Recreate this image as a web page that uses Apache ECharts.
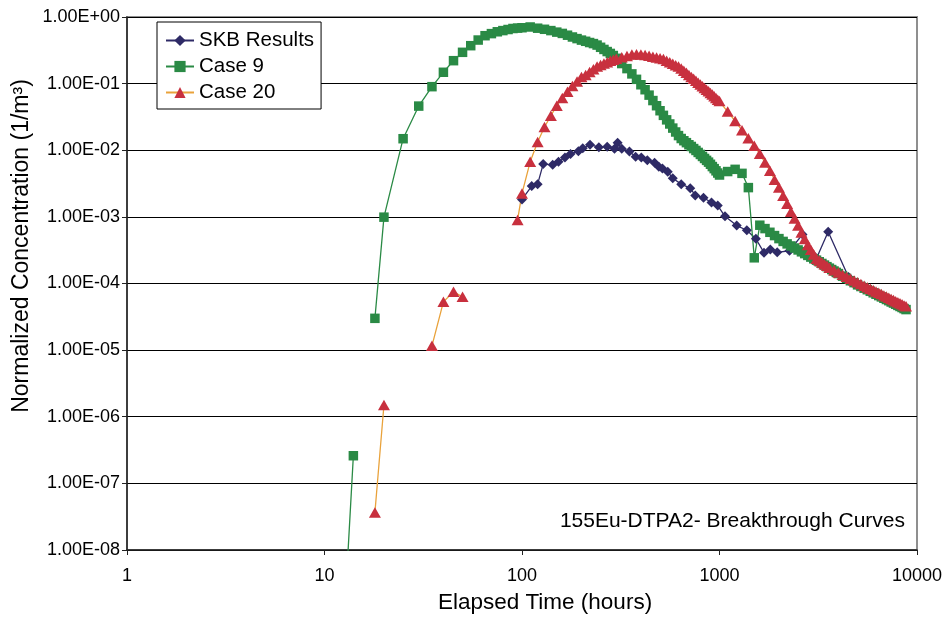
<!DOCTYPE html>
<html>
<head>
<meta charset="utf-8">
<script src="https://cdn.jsdelivr.net/npm/echarts@6/dist/echarts.min.js"></script>
<style>
  html, body { margin: 0; padding: 0; background: #fff; }
  #chart { width: 950px; height: 617px; }
</style>
</head>
<body>
<div id="chart"></div>
<script>
// Tick labels for the two logarithmic axes, indexed by decade
const xTickLabels = ['1', '10', '100', '1000', '10000'];
const yTickLabels = ['1.00E+00', '1.00E-01', '1.00E-02', '1.00E-03', '1.00E-04',
                     '1.00E-05', '1.00E-06', '1.00E-07', '1.00E-08'];

const seriesNames = ['SKB Results', 'Case 9', 'Case 20'];

// SKB Results: elapsed time (h) and normalized concentration (1/m3)
const skbTime = [100, 112, 120, 128, 143, 153, 165, 176, 193, 203, 221, 245, 270, 294, 305,
  320, 350, 376, 402, 431, 469, 493, 514, 547, 580, 640, 711, 754, 830, 911, 980,
  1066, 1222, 1375, 1528, 1680, 1808, 1960, 2262, 2632, 3100, 3550, 4500, 6000, 8000];
const skbConc = [1.83e-3, 2.9e-3, 3.1e-3, 6.2e-3, 6.05e-3, 6.7e-3, 7.8e-3, 8.8e-3, 9.7e-3, 1.07e-2,
  1.21e-2, 1.11e-2, 1.13e-2, 1.05e-2, 1.3e-2, 1.05e-2, 9.6e-3, 8.0e-3, 7.8e-3, 7.1e-3,
  6.5e-3, 5.65e-3, 5.3e-3, 4.75e-3, 3.8e-3, 3.1e-3, 2.7e-3, 2.1e-3, 1.94e-3, 1.64e-3,
  1.48e-3, 1.02e-3, 7.4e-4, 6.3e-4, 4.7e-4, 2.9e-4, 3.25e-4, 2.94e-4, 3.1e-4, 5.45e-4,
  2.4e-4, 6.0e-4, 1.25e-4, 7.5e-5, 4.9e-5];

// Case 9 (null marks a break in the curve)
const case9Time = [13, 14, 16, 18, 20, 25, 30, 35, 40, 45, 50, 55, 60, 65, 70, 75, 80, 85, 90, 95,
  100, 110, 120, 130, 140, 150, 160, 170, 180, 190, 200, 210, 220, 230, 240, 250, 260, 270,
  280, 290, 300, 320, 340, 360, 380, 400, 420, 440, 460, 480, 500, 520, 540, 560, 580, 600,
  620, 640, 660, 680, 700, 720, 740, 760, 780, 800, 820, 840, 860, 880, 900, 920, 940, 960,
  980, 1000, 1100, 1200, 1300, 1400, 1500, 1600, 1700, 1800, 1900, 2000, 2100, 2200, 2300,
  2400, 2500, 2600, 2700, 2800, 2900, 3000, 3100, 3200, 3300, 3400, 3500, 3600, 3700, 3800,
  3900, 4000, 4200, 4400, 4600, 4800, 5000, 5200, 5400, 5600, 5800, 6000, 6200, 6400, 6600,
  6800, 7000, 7200, 7400, 7600, 7800, 8000, 8200, 8400, 8600, 8800];
const case9Conc = [5e-9, 2.6e-7, null, 3.0e-5, 9.9e-4, 1.49e-2, 4.6e-2, 9.0e-2, 0.148, 0.221,
  0.295, 0.371, 0.451, 0.524, 0.563, 0.600, 0.625, 0.649, 0.672, 0.681,
  0.690, 0.708, 0.679, 0.654, 0.625, 0.593, 0.567, 0.533, 0.501, 0.474, 0.450, 0.432, 0.414,
  0.399, 0.379, 0.351, 0.326, 0.303, 0.284, 0.264, 0.240, 0.200, 0.168, 0.140, 0.116, 0.0962,
  0.0810, 0.0672, 0.0557, 0.0466, 0.0392, 0.0334, 0.0286, 0.0248, 0.0215, 0.0188, 0.0166,
  0.0150, 0.0139, 0.0130, 0.0121, 0.0114, 0.0106, 0.00993, 0.00927, 0.00865, 0.00807,
  0.00753, 0.00705, 0.00663, 0.00616, 0.00569, 0.00530, 0.00491, 0.00455, 0.00425,
  4.79e-3, 5.17e-3, 4.5e-3, 2.75e-3, 2.43e-4, 7.5e-4, 6.67e-4, 5.87e-4, 5.24e-4, 4.72e-4,
  4.28e-4, 3.93e-4, 3.66e-4, 3.41e-4, 3.19e-4, 2.99e-4, 2.81e-4, 2.64e-4, 2.49e-4, 2.35e-4,
  2.24e-4, 2.12e-4, 2.0e-4, 1.89e-4, 1.79e-4, 1.70e-4, 1.62e-4, 1.54e-4, 1.47e-4, 1.41e-4,
  1.29e-4, 1.19e-4, 1.10e-4, 1.03e-4, 9.55e-5, 9.01e-5, 8.50e-5, 8.07e-5, 7.64e-5, 7.25e-5,
  6.90e-5, 6.58e-5, 6.29e-5, 6.00e-5, 5.75e-5, 5.52e-5, 5.28e-5, 5.08e-5, 4.88e-5, 4.69e-5,
  4.52e-5, 4.36e-5, 4.20e-5, 4.06e-5];

// Case 20 (null marks a break in the curve)
const case20Time = [18, 20, 25, 35, 40, 45, 50, 70, 95, 100, 110, 120, 130, 140, 150, 160, 170,
  180, 190, 200, 210, 220, 230, 240, 250, 260, 270, 280, 290, 300, 320, 340, 360, 380, 400,
  420, 440, 460, 480, 500, 520, 540, 560, 580, 600, 620, 640, 660, 680, 700, 720, 740, 760,
  780, 800, 820, 840, 860, 880, 900, 920, 940, 960, 980, 1000, 1100, 1200, 1300, 1400, 1500,
  1600, 1700, 1800, 1900, 2000, 2100, 2200, 2300, 2400, 2500, 2600, 2700, 2800, 2900, 3000,
  3100, 3200, 3300, 3400, 3500, 3600, 3800, 4000, 4200, 4400, 4600, 4800, 5000, 5200, 5400,
  5600, 5800, 6000, 6200, 6400, 6600, 6800, 7000, 7200, 7400, 7600, 7800, 8000, 8200, 8400,
  8600, 8800];
const case20Conc = [3.65e-8, 1.5e-6, null, 1.16e-5, 5.3e-5, 7.5e-5, 6.3e-5, null, 9.0e-4,
  2.25e-3, 6.7e-3, 1.33e-2, 2.23e-2, 3.30e-2, 4.66e-2, 6.08e-2, 7.55e-2, 9.2e-2, 0.108, 0.126,
  0.135, 0.150, 0.165, 0.180, 0.190, 0.200, 0.209, 0.220, 0.229, 0.236, 0.248, 0.260, 0.273,
  0.275, 0.273, 0.269, 0.261, 0.254, 0.247, 0.241, 0.234, 0.221, 0.209, 0.199, 0.189, 0.181,
  0.169, 0.156, 0.145, 0.135, 0.126, 0.118, 0.110, 0.103, 0.0969, 0.0911, 0.0859, 0.0810,
  0.0766, 0.0722, 0.0684, 0.0645, 0.0610, 0.0575, 0.0548, 0.0380, 0.0275, 0.0199, 0.0152,
  0.0117, 0.00883, 0.00653, 0.00492, 0.00361, 0.00275, 0.00208, 0.00157, 0.00119, 9.49e-4,
  7.43e-4, 5.85e-4, 4.64e-4, 3.78e-4, 3.22e-4, 2.72e-4, 2.36e-4, 2.21e-4, 2.07e-4, 1.95e-4,
  1.84e-4, 1.73e-4, 1.58e-4, 1.46e-4, 1.35e-4, 1.26e-4, 1.18e-4, 1.11e-4, 1.04e-4, 9.83e-5,
  9.27e-5, 8.80e-5, 8.35e-5, 7.96e-5, 7.58e-5, 7.25e-5, 6.93e-5, 6.63e-5, 6.36e-5, 6.10e-5,
  5.85e-5, 5.63e-5, 5.42e-5, 5.22e-5, 5.04e-5, 4.87e-5, 4.69e-5, 4.55e-5];

const FONT = 'Liberation Sans, Arial, Helvetica, sans-serif';

function toPairs(times, values) {
  return times.map((t, i) => [t, values[i] == null ? '-' : values[i]]);
}
function decadeIndex(v) {
  return Math.round(Math.abs(Math.log10(v)));
}

const chart = echarts.init(document.getElementById('chart'), null, { renderer: 'canvas' });

chart.setOption({
  animation: false,
  backgroundColor: '#fff',
  grid: {
    left: 127, right: 33, top: 17, bottom: 67,
    show: true, borderColor: '#8f8f8f', borderWidth: 2, backgroundColor: 'transparent'
  },
  legend: {
    data: seriesNames,
    orient: 'vertical',
    left: 157, top: 22,
    backgroundColor: '#fff',
    borderColor: '#000', borderWidth: 1, borderRadius: 0,
    padding: [8, 7, 6, 8],
    itemGap: 5,
    itemWidth: 28, itemHeight: 14,
    textStyle: { fontFamily: FONT, fontSize: 20.5, color: '#000', lineHeight: 20 }
  },
  xAxis: {
    type: 'log', logBase: 10, min: 1, max: 10000,
    splitNumber: 4,
    axisLine: { show: true, lineStyle: { color: '#222', width: 1.5 } },
    axisTick: { show: true, inside: false, length: 5, lineStyle: { color: '#222' } },
    minorTick: { show: false },
    splitLine: { show: false },
    axisLabel: {
      margin: 17, fontFamily: FONT, fontSize: 18, color: '#000',
      formatter: v => xTickLabels[decadeIndex(v)]
    }
  },
  yAxis: {
    type: 'log', logBase: 10, min: 1e-8, max: 1,
    splitNumber: 8,
    axisLine: { show: true, lineStyle: { color: '#222', width: 1.5 } },
    axisTick: { show: true, inside: false, length: 5, lineStyle: { color: '#222' } },
    minorTick: { show: false },
    splitLine: { show: true, lineStyle: { color: '#000', width: 1 } },
    axisLabel: {
      margin: 7, fontFamily: FONT, fontSize: 18, color: '#000',
      formatter: v => yTickLabels[decadeIndex(v)]
    }
  },
  graphic: [
    {
      type: 'text', x: 22, y: 246, rotation: Math.PI / 2,
      style: {
        text: 'Normalized Concentration (1/m³)', fill: '#000',
        font: '23px ' + FONT, align: 'center', verticalAlign: 'middle'
      }
    },
    {
      type: 'text', x: 545, y: 603,
      style: {
        text: 'Elapsed Time (hours)', fill: '#000',
        font: '22.5px ' + FONT, align: 'center', verticalAlign: 'middle'
      }
    },
    {
      type: 'text', x: 905, y: 521, z: 100,
      style: {
        text: '155Eu-DTPA2- Breakthrough Curves', fill: '#000',
        font: '21px ' + FONT, align: 'right', verticalAlign: 'middle'
      }
    }
  ],
  series: [
    {
      name: seriesNames[0], type: 'line',
      data: toPairs(skbTime, skbConc),
      symbol: 'diamond', symbolSize: 10, showAllSymbol: true,
      clip: true,
      lineStyle: { color: '#2E2A66', width: 1.3 },
      itemStyle: { color: '#2E2A66' },
      emphasis: { disabled: true }
    },
    {
      name: seriesNames[1], type: 'line',
      data: toPairs(case9Time, case9Conc),
      symbol: 'rect', symbolSize: 9.5, showAllSymbol: true,
      clip: true,
      lineStyle: { color: '#2A8A45', width: 1.3 },
      itemStyle: { color: '#2A8A45' },
      emphasis: { disabled: true }
    },
    {
      name: seriesNames[2], type: 'line',
      data: toPairs(case20Time, case20Conc),
      symbol: 'triangle', symbolSize: [12, 10.5], showAllSymbol: true,
      clip: true,
      lineStyle: { color: '#E9A23B', width: 1.3 },
      itemStyle: { color: '#C8303E' },
      emphasis: { disabled: true }
    }
  ]
});
</script>
</body>
</html>
